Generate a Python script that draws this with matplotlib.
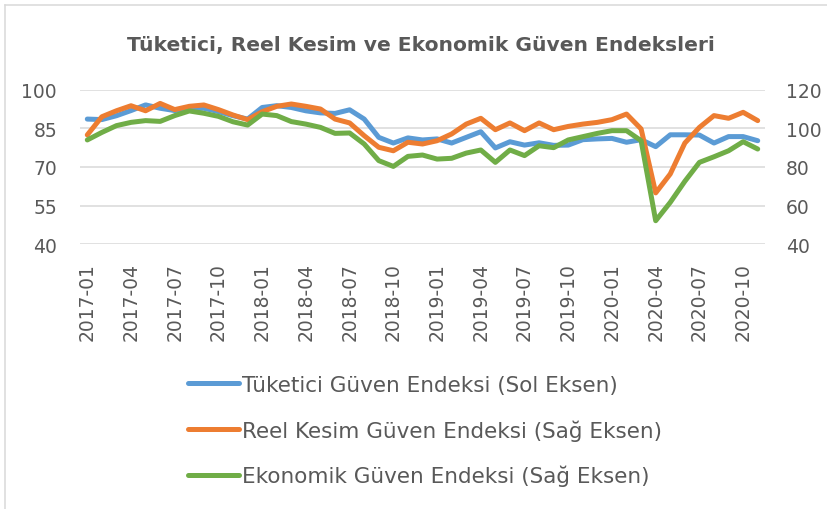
import pandas as pd
import matplotlib
matplotlib.use('Agg')
import matplotlib.pyplot as plt
from matplotlib.lines import Line2D

months = pd.date_range('2017-01-01', '2020-11-01', freq='MS').strftime('%Y-%m').tolist()

tuketici = [88.6, 88.4, 89.9, 91.9, 94.1, 92.8, 91.9, 92.5, 92.8, 91.5,
            89.9, 88.6, 93.1, 93.8, 93.1, 91.8, 91.0, 90.8, 92.2, 88.6,
            81.5, 79.3, 81.3, 80.5, 80.9, 79.3, 81.5, 83.7, 77.4, 79.8,
            78.5, 79.4, 78.4, 78.5, 80.6, 80.9, 81.1, 79.6, 80.6, 77.9,
            82.5, 82.5, 82.4, 79.3, 81.8, 81.8, 80.2]

reel_kesim = [96.6, 106.0, 109.1, 111.7, 109.1, 112.9, 109.7, 111.4, 112.1, 109.7,
              106.9, 104.5, 108.6, 111.4, 112.6, 111.4, 110.0, 104.8, 102.8, 96.2,
              90.2, 88.4, 92.8, 91.9, 93.6, 97.1, 102.2, 105.2, 99.3, 102.8,
              98.8, 102.8, 99.3, 101.0, 102.2, 103.1, 104.5, 107.4, 99.7, 66.6,
              76.4, 92.4, 100.5, 106.6, 105.2, 108.3, 104.0]

ekonomik = [94.0, 97.9, 101.4, 103.1, 104.0, 103.6, 106.6, 109.0, 107.8, 106.2,
            103.4, 101.7, 107.4, 106.6, 103.5, 102.2, 100.5, 97.4, 97.6, 91.9,
            83.3, 80.3, 85.5, 86.2, 84.1, 84.5, 87.2, 88.8, 82.4, 88.8,
            85.9, 91.0, 90.0, 94.0, 95.7, 97.4, 98.8, 98.8, 93.6, 52.2,
            61.7, 72.6, 82.4, 85.3, 88.4, 93.1, 89.3]

left_ticks = [40, 55, 70, 85, 100]
right_ticks = [40, 60, 80, 100, 120]

labels = ['Tüketici Güven Endeksi (Sol Eksen)',
          'Reel Kesim Güven Endeksi (Sağ Eksen)',
          'Ekonomik Güven Endeksi (Sağ Eksen)']
colors = ['#5B9BD5', '#ED7D31', '#70AD47']
text_color = '#595959'
grid_color = '#D9D9D9'

plt.rcParams['font.family'] = ['DejaVu Sans']

W, H = 827, 510
fig = plt.figure(figsize=(W / 100, H / 100), dpi=100)
ax = fig.add_axes([80 / W, 1 - 245.3 / H, (765 - 80) / W, (245.3 - 90.7) / H])
ax2 = ax.twinx()

x = list(range(len(months)))
lw = 3.6
ax.plot(x, tuketici, color=colors[0], linewidth=lw, solid_capstyle='round',
        solid_joinstyle='round')
ax2.plot(x, reel_kesim, color=colors[1], linewidth=lw, solid_capstyle='round',
         solid_joinstyle='round')
ax2.plot(x, ekonomik, color=colors[2], linewidth=lw, solid_capstyle='round',
         solid_joinstyle='round')

ax.set_xlim(-0.5, len(months) - 0.5)
ax.set_ylim(40, 100)
ax2.set_ylim(40, 120)
ax.set_yticks(left_ticks)
ax2.set_yticks(right_ticks)
ax.set_xticks(x[::3])
ax.set_xticklabels(months[::3], rotation=90)

ax.grid(axis='y', color=grid_color, linewidth=1.1)
ax.set_axisbelow(True)
for a in (ax, ax2):
    for s in a.spines.values():
        s.set_visible(False)
    a.tick_params(length=0, labelsize=13.5, labelcolor=text_color)
ax.tick_params(axis='y', pad=16.5)
ax.tick_params(axis='x', pad=13)
ax2.tick_params(axis='y', pad=15)

fig.text(421 / W, 1 - 45 / H, 'Tüketici, Reel Kesim ve Ekonomik Güven Endeksleri',
         ha='center', va='center', fontsize=14.6, fontweight='bold', color=text_color)

handles = [Line2D([], [], color=c, linewidth=lw, solid_capstyle='round') for c in colors]
leg = fig.legend(handles, labels, loc='upper left',
                 bbox_to_anchor=(188 / W, 1 - 376 / H), frameon=False,
                 fontsize=15.5, handlelength=2.35, handletextpad=0.15,
                 labelspacing=1.12, borderpad=0, borderaxespad=0)
for t in leg.get_texts():
    t.set_color(text_color)

# chart area border (only top and left visible)
fig.add_artist(Line2D([5 / W, 1], [1 - 6 / H, 1 - 6 / H], color=grid_color,
                      linewidth=1.1, transform=fig.transFigure))
fig.add_artist(Line2D([5 / W, 5 / W], [0, 1 - 6 / H], color=grid_color,
                      linewidth=1.1, transform=fig.transFigure))

fig.savefig('out.png', dpi=100)
